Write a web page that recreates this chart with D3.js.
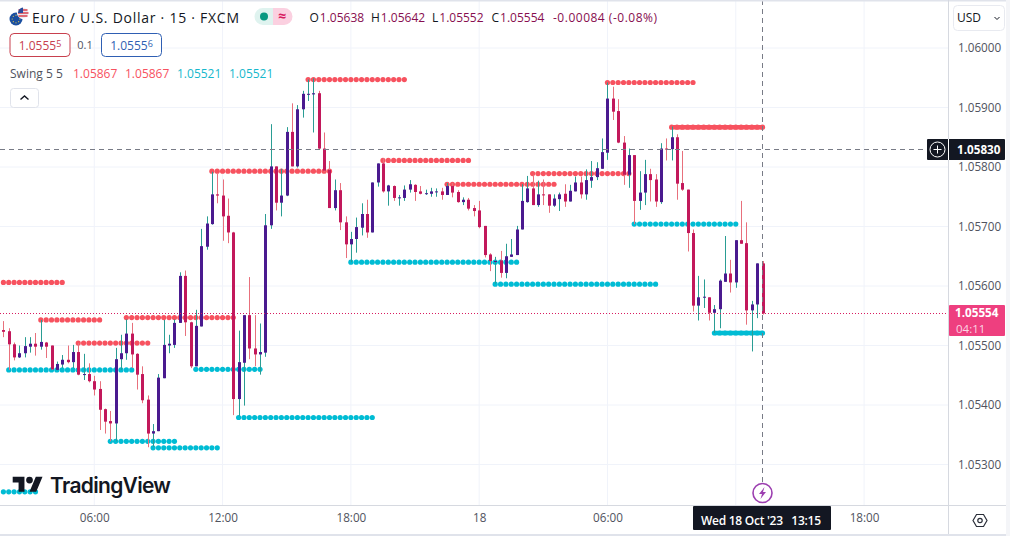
<!DOCTYPE html>
<html>
<head>
<meta charset="utf-8">
<script src="https://cdn.jsdelivr.net/npm/d3@7"></script>
<style>
  html, body { margin: 0; padding: 0; background: #fff; overflow: hidden; }
  svg { display: block; }
  text { font-family: "Open Sans", Roboto, sans-serif; }
  .axis path, .axis line { display: none; }
  .axis text { fill: #50535e; font-size: 11.7px; }
</style>
</head>
<body>
<div class="chart"></div>
<script>
/*
----------------------------------------------------------
                   the data (prices in 1e-5)
----------------------------------------------------------
*/
var opens = [
  105526,105524,105502,105480,105487,105498,105503,105498,105505,105500,
  105459,105468,105476,105472,105489,105451,105452,105440,105427,105393,
  105373,105369,105477,105487,105520,105486,105452,105409,105352,105356,
  105445,105500,105501,105538,105617,105539,105465,105532,105666,105704,
  105754,105752,105718,105690,105410,105471,105551,105495,105485,105488,
  105702,105801,105740,105752,105859,105801,105897,105922,105922,105924,
  105831,105795,105731,105761,105707,105670,105679,105698,105721,105690,
  105774,105806,105759,105768,105748,105748,105762,105770,105759,105755,
  105755,105758,105759,105753,105768,105758,105741,105745,105731,105727,
  105701,105653,105641,105643,105622,105649,105652,105695,105741,105764,
  105736,105754,105754,105735,105746,105755,105742,105759,105774,105754,
  105777,105783,105797,105824,105915,105894,105841,105787,105820,105743,
  105757,105788,105779,105741,105831,105830,105850,105773,105762,105689,
  105567,105581,105581,105555,105561,105607,105621,105606,105677,105672,
  105559,105569,105638
];
var highs = [
  105541,105529,105505,105500,105514,105514,105521,105543,105506,105500,
  105473,105484,105500,105501,105504,105486,105470,105449,105440,105394,
  105390,105496,105518,105544,105538,105487,105465,105416,105368,105452,
  105543,105518,105544,105623,105626,105540,105560,105696,105717,105792,
  105789,105779,105747,105691,105525,105551,105615,105551,105537,105721,
  105872,105801,105797,105867,105907,105904,105928,105947,105949,105928,
  105858,105810,105779,105773,105717,105691,105715,105739,105745,105774,
  105806,105815,105770,105769,105753,105769,105778,105771,105768,105762,
  105765,105764,105765,105773,105773,105761,105749,105748,105736,105743,
  105701,105655,105649,105659,105671,105679,105701,105771,105785,105787,
  105777,105779,105754,105754,105757,105771,105770,105784,105784,105796,
  105810,105808,105848,105942,105935,105914,105852,105831,105820,105793,
  105812,105797,105788,105840,105848,105868,105855,105827,105762,105695,
  105617,105611,105581,105568,105611,105684,105644,105677,105743,105707,
  105575,105638,105642
];
var lows = [
  105514,105459,105475,105479,105480,105488,105483,105493,105479,105459,
  105458,105462,105470,105462,105450,105442,105438,105416,105358,105352,
  105339,105339,105459,105476,105462,105426,105403,105329,105330,105356,
  105445,105487,105496,105538,105516,105462,105465,105532,105661,105703,
  105739,105676,105672,105383,105381,105399,105477,105465,105451,105481,
  105696,105727,105717,105751,105801,105799,105883,105911,105858,105829,
  105792,105731,105727,105694,105647,105640,105656,105685,105681,105690,
  105767,105757,105735,105743,105735,105743,105757,105743,105754,105753,
  105750,105750,105745,105753,105749,105740,105736,105727,105717,105697,
  105648,105625,105604,105614,105613,105649,105652,105695,105740,105736,
  105733,105736,105723,105733,105726,105733,105742,105759,105747,105745,
  105765,105778,105797,105812,105879,105840,105770,105765,105704,105728,
  105736,105742,105733,105738,105811,105811,105745,105760,105658,105557,
  105542,105563,105542,105521,105529,105607,105589,105597,105671,105535,
  105490,105546,105552
];
var closes = [
  105523,105502,105480,105487,105499,105503,105498,105506,105498,105460,
  105469,105476,105472,105489,105451,105452,105440,105426,105392,105372,
  105369,105477,105487,105520,105485,105451,105408,105352,105356,105446,
  105501,105503,105538,105617,105539,105465,105533,105667,105705,105754,
  105752,105717,105690,105410,105472,105551,105495,105485,105489,105702,
  105801,105740,105752,105859,105801,105897,105923,105923,105924,105831,
  105794,105731,105761,105707,105670,105679,105699,105721,105690,105774,
  105806,105759,105769,105748,105749,105762,105771,105758,105755,105756,
  105759,105759,105753,105768,105757,105741,105745,105730,105726,105699,
  105652,105642,105642,105622,105650,105653,105695,105743,105764,105736,
  105754,105753,105735,105747,105754,105742,105760,105774,105754,105778,
  105783,105798,105825,105915,105893,105841,105787,105820,105743,105757,
  105788,105778,105742,105831,105830,105850,105772,105762,105689,105567,
  105581,105582,105555,105561,105609,105621,105606,105677,105671,105559,
  105569,105638,105554
];

// swing levels: first bar, last bar, price
var swingHighFrom  = [0, 7, 14, 23, 39, 57, 71, 83, 99, 113, 125];
var swingHighTo    = [11, 18, 27, 43, 61, 75, 87, 103, 117, 129, 142];
var swingHighLevel = [105606, 105543, 105504, 105547, 105793, 105947, 105811, 105771, 105789, 105942, 105867];

var swingLowFrom  = [0, 1, 20, 28, 36, 44, 65, 92, 118, 133];
var swingLowTo    = [6, 24, 32, 40, 48, 69, 96, 122, 137, 142];
var swingLowLevel = [105254, 105459, 105339, 105328, 105460, 105379, 105640, 105603, 105704, 105521];

var priceTicks = [105300, 105400, 105500, 105600, 105700, 105800, 105900, 106000];
var gridBars   = [17, 41, 65, 89, 113, 137, 161];
var timeTicks  = [17, 41, 65, 89, 113, 161];
var timeLabels = ["06:00", "12:00", "18:00", "18", "06:00", "18:00"];

var lastPrice   = 105554;
var crossPrice  = 105830;
var crossBar    = 142;
var crossLabel  = "Wed 18 Oct '23   13:15";
var countdown   = "04:11";
var legendOhlc  = [["O", "1.05638"], ["H", "1.05642"], ["L", "1.05552"], ["C", "1.05554"]];
var legendDelta = "-0.00084 (-0.08%)";
var swingValues = ["1.05867", "1.05867", "1.05521", "1.05521"];

/*
----------------------------------------------------------
                   the board
----------------------------------------------------------
*/
var width = 1010, height = 536;
var paneW = 948, paneH = 505.5;

var upBody = "#4a1a8f", upWick = "#2a9d94";
var downBody = "#c2185b", downWick = "#e8707c";
var red = "#f7525f", teal = "#00bcd4";

var x = d3.scaleLinear().domain([0, 142]).range([3.4, 762.5]);
var y = d3.scaleLinear().domain([105300, 106000]).range([464.5, 48]);

var svg = d3.select(".chart").append("svg").attr("width", width).attr("height", height);

function Layer(cssClass) {
  return svg.append("g").attr("class", cssClass);
}

svg.append("clipPath").attr("id", "pane").append("rect")
  .attr("width", paneW).attr("height", paneH);

var grid = Layer("grid");
var dots = Layer("swing").attr("clip-path", "url(#pane)");
var candles = Layer("candles");
var lines = Layer("lines");
var frame = Layer("frame");
var axes = Layer("axes");
var legend = Layer("legend");

/* grid */
grid.selectAll(".h").data(priceTicks).enter().append("line")
  .attr("x1", 0).attr("x2", paneW)
  .attr("y1", function(d) { return y(d); }).attr("y2", function(d) { return y(d); })
  .attr("stroke", "#f0f3fa");
grid.selectAll(".v").data(gridBars).enter().append("line")
  .attr("x1", function(d) { return x(d); }).attr("x2", function(d) { return x(d); })
  .attr("y1", 0).attr("y2", paneH)
  .attr("stroke", "#f0f3fa");

/* swing dots */
function drawSwing(from, to, level, color) {
  from.forEach(function(start, k) {
    var bars = d3.range(start, to[k] + 1);
    var active = to[k] == 142;
    dots.selectAll(null).data(bars).enter().append("circle")
      .attr("cx", function(d) { return x(d); })
      .attr("cy", y(level[k]))
      .attr("r", 2.6)
      .attr("fill", color);
    if(active) {
      dots.append("line")
        .attr("x1", x(start)).attr("x2", x(to[k]))
        .attr("y1", y(level[k])).attr("y2", y(level[k]))
        .attr("stroke", color).attr("stroke-width", 4.5);
    }
  });
}
drawSwing(swingHighFrom, swingHighTo, swingHighLevel, red);
drawSwing(swingLowFrom, swingLowTo, swingLowLevel, teal);

/* candles */
var bars = d3.range(opens.length);
candles.selectAll(".wick").data(bars).enter().append("line")
  .attr("class", "wick")
  .attr("x1", function(d) { return Math.round(x(d)) + 0.5; })
  .attr("x2", function(d) { return Math.round(x(d)) + 0.5; })
  .attr("y1", function(d) { return y(highs[d]); })
  .attr("y2", function(d) { return y(lows[d]); })
  .attr("stroke", function(d) { return closes[d] >= opens[d] ? upWick : downWick; });
candles.selectAll(".body").data(bars).enter().append("rect")
  .attr("class", "body")
  .attr("x", function(d) { return Math.round(x(d)) - 1; })
  .attr("width", 3)
  .attr("y", function(d) { return y(Math.max(opens[d], closes[d])); })
  .attr("height", function(d) { return Math.max(1, Math.abs(y(opens[d]) - y(closes[d]))); })
  .attr("fill", function(d) { return closes[d] >= opens[d] ? upBody : downBody; });

/* current price + crosshair */
lines.append("line").attr("x1", 0).attr("x2", paneW)
  .attr("y1", Math.round(y(lastPrice)) + 0.5).attr("y2", Math.round(y(lastPrice)) + 0.5)
  .attr("stroke", "#d81b60").attr("stroke-dasharray", "1 2");
lines.append("line").attr("x1", 0).attr("x2", paneW)
  .attr("y1", Math.round(y(crossPrice)) + 0.5).attr("y2", Math.round(y(crossPrice)) + 0.5)
  .attr("stroke", "#787b86").attr("stroke-dasharray", "5 4");
lines.append("line").attr("x1", x(crossBar)).attr("x2", x(crossBar))
  .attr("y1", 0).attr("y2", 482)
  .attr("stroke", "#787b86").attr("stroke-dasharray", "5 4");

/* lightning marker */
var bolt = lines.append("g").attr("transform", "translate(" + x(crossBar) + ",493)");
bolt.append("circle").attr("r", 9.5).attr("fill", "#fff").attr("stroke", "none");
bolt.append("circle").attr("r", 9.5).attr("fill", "none").attr("stroke", "#9c3fb0").attr("stroke-width", 1.6);
bolt.append("path").attr("d", "M2 -6 L-3.5 1 L-0.5 1 L-2 6 L3.5 -1 L0.5 -1 Z").attr("fill", "#9c3fb0");

/* frame */
frame.append("rect").attr("x", 0).attr("y", 0).attr("width", width).attr("height", 1.5).attr("fill", "#e0e3eb");
frame.append("rect").attr("x", 0).attr("y", 534).attr("width", width).attr("height", 2).attr("fill", "#e0e3eb");
frame.append("rect").attr("x", 1006).attr("y", 0).attr("width", 4).attr("height", height).attr("fill", "#f4f5f8");
frame.append("line").attr("x1", 0).attr("x2", 1006).attr("y1", paneH).attr("y2", paneH).attr("stroke", "#d6d9e0");
frame.append("line").attr("x1", paneW + 0.5).attr("x2", paneW + 0.5).attr("y1", 0).attr("y2", 534).attr("stroke", "#d6d9e0");

/* axes */
var priceAxis = d3.axisRight(y).tickValues(priceTicks).tickSize(0).tickPadding(0)
  .tickFormat(function(d) { return (d / 1e5).toFixed(5); });
axes.append("g").attr("class", "axis").attr("transform", "translate(958,0)").call(priceAxis);

var timeAxis = d3.axisBottom(x).tickValues(timeTicks).tickSize(0).tickPadding(0)
  .tickFormat(function(d, i) { return timeLabels[i]; });
axes.append("g").attr("class", "axis").attr("transform", "translate(0,514)").call(timeAxis);

/* price labels */
axes.append("rect").attr("x", 949).attr("y", 305).attr("width", 56).attr("height", 31).attr("rx", 1).attr("fill", "#ee3f7f");
axes.append("text").attr("x", 955).attr("y", 317).attr("fill", "#fff").attr("font-size", 11.7).attr("font-weight", 700)
  .text((lastPrice / 1e5).toFixed(5));
axes.append("text").attr("x", 956).attr("y", 333).attr("fill", "#fbd5e3").attr("font-size", 11.5).text(countdown);

axes.append("rect").attr("x", 927).attr("y", 139).attr("width", 78).attr("height", 21).attr("rx", 1).attr("fill", "#131722");
axes.append("rect").attr("x", 948).attr("y", 139).attr("width", 1).attr("height", 21).attr("fill", "#fff");
axes.append("circle").attr("cx", 937.5).attr("cy", 149.5).attr("r", 7.5).attr("fill", "none").attr("stroke", "#fff");
axes.append("path").attr("d", "M937.5 145.5v8M933.5 149.5h8").attr("stroke", "#fff");
axes.append("text").attr("x", 957).attr("y", 154).attr("fill", "#fff").attr("font-size", 11.7).attr("font-weight", 700)
  .text((crossPrice / 1e5).toFixed(5));

axes.append("rect").attr("x", 693).attr("y", 506).attr("width", 138).attr("height", 24).attr("rx", 1).attr("fill", "#131722");
axes.append("text").attr("x", 701).attr("y", 525).attr("fill", "#fff").attr("font-size", 12).attr("font-weight", 600)
  .attr("textLength", 120).style("white-space", "pre").text(crossLabel);

/* settings icon */
axes.append("path").attr("d", "M973 520.5 L976.5 514.5 L983.5 514.5 L987 520.5 L983.5 526.5 L976.5 526.5 Z")
  .attr("fill", "none").attr("stroke", "#2a2e39").attr("stroke-width", 1.2);
axes.append("circle").attr("cx", 980).attr("cy", 520.5).attr("r", 2.2).attr("fill", "none").attr("stroke", "#2a2e39").attr("stroke-width", 1.2);

/* currency button */
axes.append("rect").attr("x", 953.5).attr("y", 5.5).attr("width", 51).attr("height", 25).attr("rx", 4)
  .attr("fill", "#fff").attr("stroke", "#e8eaf0");
axes.append("text").attr("x", 957).attr("y", 22).attr("fill", "#131722").attr("font-size", 12).text("USD");
axes.append("path").attr("d", "M994.5 17 L997 19.5 L999.5 17").attr("fill", "none").attr("stroke", "#131722");

/*
----------------------------------------------------------
                   the legend
----------------------------------------------------------
*/
/* symbol flags */
legend.append("circle").attr("cx", 16).attr("cy", 19).attr("r", 6.5).attr("fill", "#1a4fa0");
d3.range(8).forEach(function(k) {
  legend.append("circle")
    .attr("cx", 16 + 3.8 * Math.cos(k * Math.PI / 4))
    .attr("cy", 19 + 3.8 * Math.sin(k * Math.PI / 4))
    .attr("r", 0.6).attr("fill", "#e8c94a");
});
legend.append("circle").attr("cx", 23).attr("cy", 13).attr("r", 5.5).attr("fill", "#e8e8ee").attr("stroke", "#fff");
legend.append("path").attr("d", "M18.5 10h9M18 13h10.5M18.5 16h9").attr("stroke", "#d9414e").attr("stroke-width", 1.3);
legend.append("path").attr("d", "M18 13 A5.5 5.5 0 0 1 23 7.5 V13 Z").attr("fill", "#2b4c9b");

legend.append("text").attr("x", 32).attr("y", 23).attr("fill", "#131722").attr("font-size", 14)
  .attr("textLength", 207).text("Euro / U.S. Dollar · 15 · FXCM");

/* market status */
legend.append("path").attr("d", "M263 8 H273 V25 H263 A8.5 8.5 0 0 1 263 8 Z").attr("fill", "#dff3ef");
legend.append("path").attr("d", "M273 8 H284 A8.5 8.5 0 0 1 284 25 H273 Z").attr("fill", "#fbd0e0");
legend.append("circle").attr("cx", 264).attr("cy", 16.5).attr("r", 4).attr("fill", "#089981");
legend.append("text").attr("x", 282).attr("y", 21).attr("text-anchor", "middle").attr("fill", "#d81b60")
  .attr("font-size", 14).attr("font-weight", 700).text("≈");

/* ohlc */
var ohlcX = [309.5, 371, 432, 491.5];
legendOhlc.forEach(function(d, k) {
  var t = legend.append("text").attr("x", ohlcX[k]).attr("y", 22).attr("font-size", 12);
  t.append("tspan").attr("fill", "#131722").text(d[0]);
  t.append("tspan").attr("fill", "#880e4f").attr("dx", 1).text(d[1]);
});
legend.append("text").attr("x", 553).attr("y", 22).attr("font-size", 12).attr("fill", "#880e4f")
  .attr("textLength", 104).text(legendDelta);

/* quote boxes */
function quoteBox(bx, w, color, value, sup) {
  legend.append("rect").attr("x", bx + 0.5).attr("y", 33.5).attr("width", w).attr("height", 23).attr("rx", 4)
    .attr("fill", "#fff").attr("stroke", color);
  var t = legend.append("text").attr("x", bx + w / 2 + 0.5).attr("y", 50).attr("text-anchor", "middle")
    .attr("fill", color).attr("font-size", 12);
  t.append("tspan").text(value);
  t.append("tspan").attr("font-size", 9).attr("dy", -3).text(sup);
}
quoteBox(9.5, 60, "#c8404e", "1.0555", "5");
quoteBox(101, 60, "#2f5fb3", "1.0555", "6");
legend.append("text").attr("x", 85).attr("y", 49).attr("text-anchor", "middle").attr("fill", "#50535e").attr("font-size", 11).text("0.1");

/* indicator row */
legend.append("text").attr("x", 10).attr("y", 78).attr("fill", "#50535e").attr("font-size", 12).text("Swing 5 5");
var swingX = [73, 125, 177, 229];
var swingColors = [red, red, "#17b8cc", "#17b8cc"];
swingValues.forEach(function(v, k) {
  legend.append("text").attr("x", swingX[k]).attr("y", 78).attr("fill", swingColors[k]).attr("font-size", 12).text(v);
});

/* collapse button */
legend.append("rect").attr("x", 10.5).attr("y", 88.5).attr("width", 28).attr("height", 19).attr("rx", 3)
  .attr("fill", "#fff").attr("stroke", "#e0e3eb");
legend.append("path").attr("d", "M20.5 99.5 L24.5 96 L28.5 99.5").attr("fill", "none").attr("stroke", "#131722").attr("stroke-width", 1.4);

/* watermark */
var logo = legend.append("g").attr("transform", "translate(12.7,473.3) scale(0.84)");
logo.append("path").attr("d", "M14 22H7V11H0V4h14v18zM28 22h-8l7.5-18h8L28 22z").attr("fill", "#131722");
logo.append("circle").attr("cx", 20).attr("cy", 8).attr("r", 4).attr("fill", "#131722");
legend.append("text").attr("x", 50).attr("y", 492.5).attr("fill", "#131722")
  .attr("font-size", 21).attr("font-weight", 600).attr("textLength", 121)
  .style("font-family", "Inter").text("TradingView");
</script>
</body>
</html>
